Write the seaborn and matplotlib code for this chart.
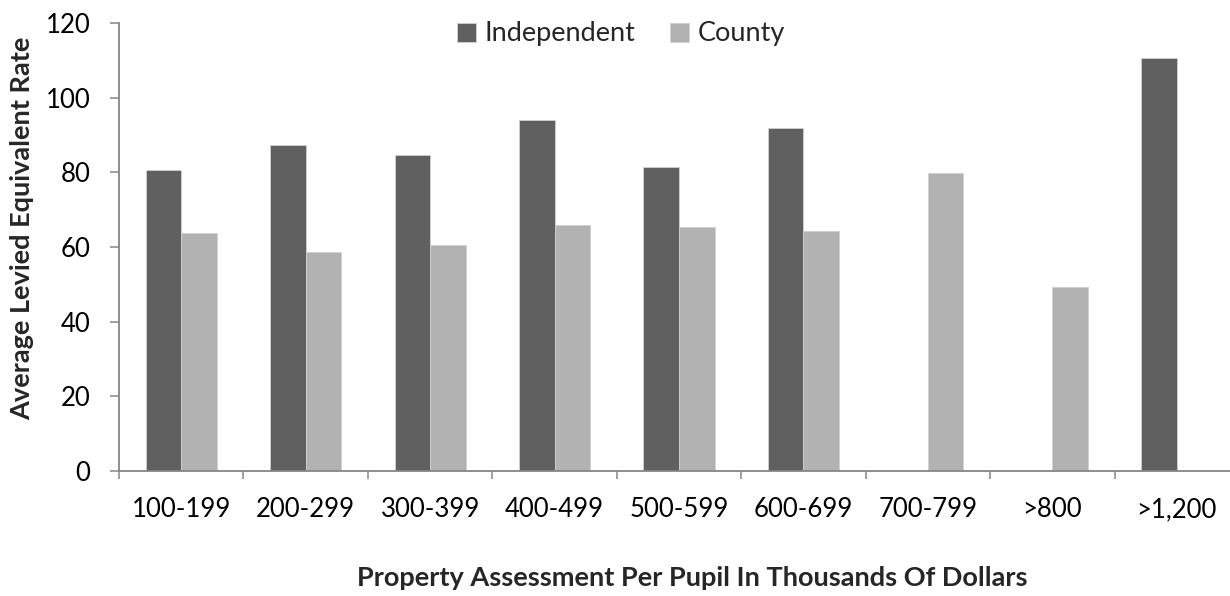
import numpy as np
import pandas as pd
import matplotlib
matplotlib.use("Agg")
import matplotlib.pyplot as plt
import seaborn as sns

categories = ["100-199", "200-299", "300-399", "400-499", "500-599",
              "600-699", "700-799", ">800", ">1,200"]
independent = [80.5, 87.2, 84.6, 94.0, 81.3, 92.0, np.nan, np.nan, 110.5]
county = [63.7, 58.6, 60.6, 65.8, 65.3, 64.4, 79.7, 49.3, np.nan]
series_names = ["Independent", "County"]
series_colors = ["#606060", "#b2b2b2"]
y_ticks = [0, 20, 40, 60, 80, 100, 120]

df = pd.DataFrame({
    "bracket": categories * 2,
    "series": [series_names[0]] * len(categories) + [series_names[1]] * len(categories),
    "rate": independent + county,
})

sns.set_theme(style="white")
plt.rcParams["font.family"] = ["Lato", "DejaVu Sans"]

W, H = 1230, 596
fig = plt.figure(figsize=(W / 100, H / 100), dpi=100)
left, right, bottom, top = 119, 1239, 471, 23
ax = fig.add_axes([left / W, (H - bottom) / H, (right - left) / W, (bottom - top) / H])

sns.barplot(data=df, x="bracket", y="rate", hue="series", order=categories,
            hue_order=series_names, palette=series_colors, width=0.572,
            saturation=1, ax=ax, legend=True, edgecolor="#d0d0d0", linewidth=0.6)

ax.set_xlim(-0.5, len(categories) - 0.5)
ax.set_ylim(0, 120)
ax.set_yticks(y_ticks)
ax.set_yticklabels([str(t) for t in y_ticks])

axis_color = "#868686"
for side in ["top", "right"]:
    ax.spines[side].set_visible(False)
for side in ["left", "bottom"]:
    ax.spines[side].set_color(axis_color)
    ax.spines[side].set_linewidth(1.3)

tick_size = 18.5
label_size = 19.5
ax.tick_params(axis="y", which="major", direction="out", length=6.5, width=1.1,
               color=axis_color, pad=14, labelsize=tick_size, labelcolor="black", left=True)
ax.tick_params(axis="x", which="major", length=0, pad=19, labelsize=tick_size,
               labelcolor="black", bottom=True)
ax.set_xticks(np.arange(-0.5, len(categories) + 0.5, 1), minor=True)
ax.tick_params(axis="x", which="minor", direction="out", length=5.5, width=1.1,
               color=axis_color, bottom=True)

ax.set_xlabel("")
ax.set_ylabel("")
fig.text(22 / W, 1 - 228 / H, "Average Levied Equivalent Rate", rotation=90,
         ha="center", va="center", fontsize=label_size, fontweight="bold")
fig.text(692 / W, 1 - 578 / H, "Property Assessment Per Pupil In Thousands Of Dollars",
         ha="center", va="center", fontsize=label_size, fontweight="bold")

handles, labels = ax.get_legend_handles_labels()
ax.legend(handles, labels, loc="center", bbox_to_anchor=(621 / W, 1 - 34 / H),
          bbox_transform=fig.transFigure, ncol=2, frameon=False, fontsize=label_size,
          handlelength=0.7, handleheight=0.7, handletextpad=0.3,
          columnspacing=1.3, borderpad=0)

fig.savefig("out.png", dpi=100)
